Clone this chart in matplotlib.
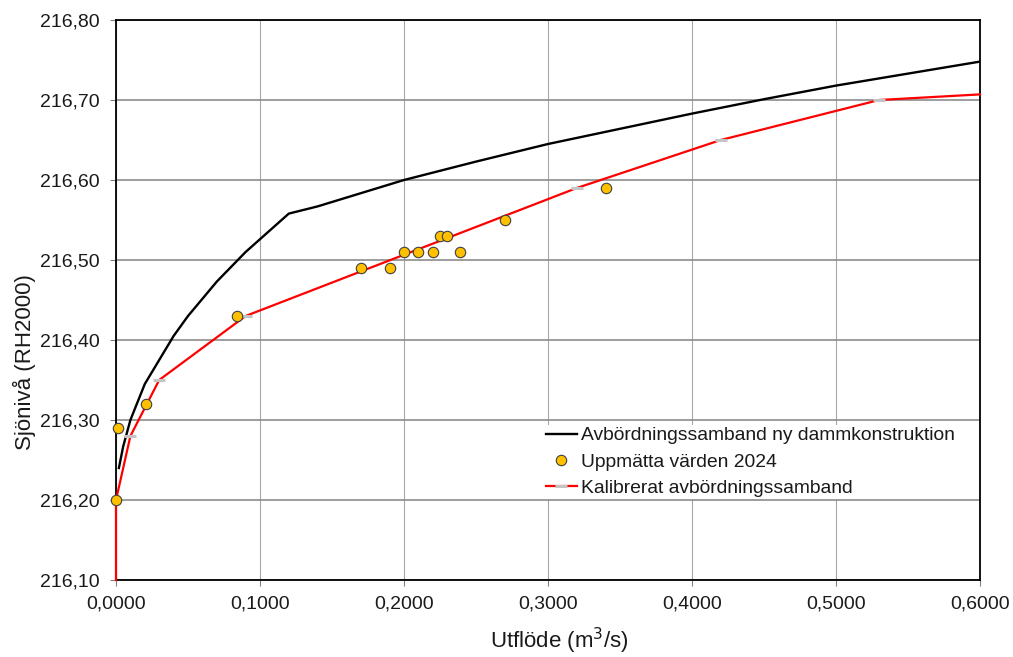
import matplotlib
matplotlib.use("Agg")
import matplotlib.pyplot as plt
from matplotlib.ticker import FuncFormatter, MultipleLocator

plt.rcParams['font.family'] = ['Liberation Sans', 'DejaVu Sans']

# Black line: Avbördningssamband ny dammkonstruktion
x_black = [0.002, 0.005, 0.01, 0.02, 0.03, 0.04, 0.05, 0.07, 0.09, 0.12, 0.14, 0.16,
           0.20, 0.25, 0.30, 0.35, 0.40, 0.45, 0.50, 0.55, 0.60]
y_black = [216.24, 216.267, 216.30, 216.345, 216.375, 216.405, 216.43, 216.473, 216.51,
           216.558, 216.567, 216.578, 216.600, 216.623, 216.645, 216.664, 216.683,
           216.701, 216.718, 216.733, 216.748]

# Measured values 2024
x_meas = [0.000, 0.0015, 0.021, 0.084, 0.170, 0.190, 0.200, 0.210, 0.220, 0.225,
          0.230, 0.239, 0.270, 0.340]
y_meas = [216.20, 216.29, 216.32, 216.43, 216.49, 216.49, 216.51, 216.51, 216.51,
          216.53, 216.53, 216.51, 216.55, 216.59]

# Calibrated relation
x_red = [0.0, 0.0, 0.01, 0.03, 0.09, 0.32, 0.42, 0.53, 0.60]
y_red = [216.10, 216.20, 216.28, 216.35, 216.43, 216.59, 216.65, 216.70, 216.707]

labels = ["Avbördningssamband ny dammkonstruktion", "Uppmätta värden 2024",
          "Kalibrerat avbördningssamband"]

fig = plt.figure(figsize=(10.13, 6.57), dpi=100)
ax = fig.add_axes([116/1013, 1-580/657, 864/1013, 560/657])

ax.set_xlim(0, 0.6)
ax.set_ylim(216.10, 216.80)
ax.xaxis.set_major_locator(MultipleLocator(0.1))
ax.yaxis.set_major_locator(MultipleLocator(0.1))
ax.xaxis.set_major_formatter(FuncFormatter(lambda v, p: f"{v:.4f}".replace(".", ",")))
ax.yaxis.set_major_formatter(FuncFormatter(lambda v, p: f"{v:.2f}".replace(".", ",")))

ax.grid(axis='y', color='#8c8c8c', lw=1.2, zorder=0)
ax.grid(axis='x', color='#a6a6a6', lw=0.8, zorder=0)
ax.set_axisbelow(True)

l1, = ax.plot(x_black, y_black, color='black', lw=1.7, zorder=3, label=labels[0])
l3, = ax.plot(x_red, y_red, color='#ff0000', lw=1.6, zorder=6.5, clip_on=False,
              marker='_', markersize=8, markeredgewidth=2.2, markeredgecolor='#c4c4c4',
              markevery=list(range(2, len(x_red) - 1)), label=labels[2])
l2, = ax.plot(x_meas, y_meas, ls='none', marker='o', markersize=7.5,
              markerfacecolor='#ffc000', markeredgecolor='#404040', markeredgewidth=0.8,
              zorder=7, clip_on=False, label=labels[1])

for s in ax.spines.values():
    s.set_color('black')
    s.set_linewidth(1.3)
    s.set_zorder(6)

ax.tick_params(axis='both', direction='out', length=4.5, width=0.8, color='#808080',
               labelsize=14, labelcolor='#1a1a1a', pad=7)

leg = ax.legend([l1, l2, l3], labels, loc='upper left', bbox_to_anchor=(0.4954, 0.2768),
                borderaxespad=0, frameon=True, fancybox=False, edgecolor='none',
                facecolor='white', framealpha=1, fontsize=13.9, handlelength=1.6,
                handletextpad=0.22, labelspacing=0.46, borderpad=0.1)
leg.set_zorder(8)
for t in leg.get_texts():
    t.set_color('#1a1a1a')

fig.text(559/1013, 1-641/657, "Utflöde (m$^3$/s)", ha='center', va='center',
         fontsize=16, color='#1a1a1a')
fig.text(24/1013, 1-362/657, "Sjönivå (RH2000)", ha='center', va='center',
         rotation=90, fontsize=16, color='#1a1a1a')

fig.savefig("out.png", dpi=100)
